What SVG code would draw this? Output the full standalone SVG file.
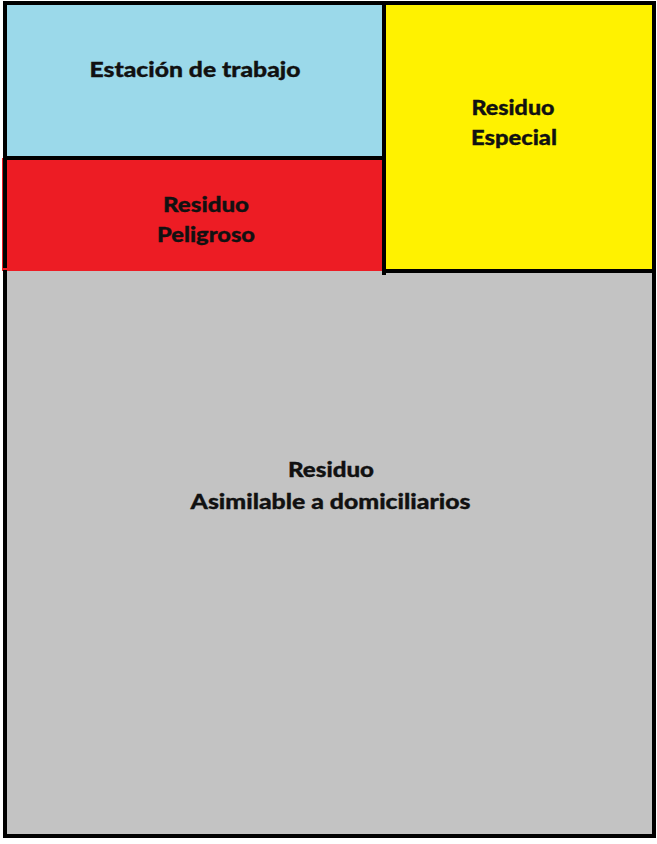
<svg xmlns="http://www.w3.org/2000/svg" width="657" height="844" viewBox="0 0 657 844">
<style>
.lbl{font-family:Lato,"Open Sans","Liberation Sans",sans-serif;font-weight:900;font-size:21.5px;fill:#111;stroke:#111;stroke-width:0.35;text-anchor:middle}
.ln{stroke:#000;stroke-width:4;fill:none}
</style>
<rect x="0" y="0" width="657" height="844" fill="#ffffff"/>
<g id="gray-area">
<rect x="5" y="270" width="649" height="566" fill="#c3c3c3"/>
<text class="lbl" x="331" y="477" textLength="86" lengthAdjust="spacingAndGlyphs">Residuo</text>
<text class="lbl" x="330.5" y="509" textLength="280" lengthAdjust="spacingAndGlyphs">Asimilable a domiciliarios</text>
</g>
<g id="workstation">
<rect x="5" y="3" width="379" height="155" fill="#9bd9ea"/>
<text class="lbl" x="195" y="77" textLength="211" lengthAdjust="spacingAndGlyphs">Estación de trabajo</text>
</g>
<g id="hazardous">
<rect x="2" y="158" width="382" height="113" fill="#ed1c24"/>
<text class="lbl" x="206" y="212" textLength="86" lengthAdjust="spacingAndGlyphs">Residuo</text>
<text class="lbl" x="206" y="242" textLength="98" lengthAdjust="spacingAndGlyphs">Peligroso</text>
</g>
<g id="special">
<rect x="384" y="3" width="270" height="268" fill="#fff200"/>
<text class="lbl" x="513" y="115" textLength="83" lengthAdjust="spacingAndGlyphs">Residuo</text>
<text class="lbl" x="514" y="145" textLength="86" lengthAdjust="spacingAndGlyphs">Especial</text>
</g>
<g id="connectors">
<rect class="ln" x="5" y="3" width="649" height="833"/>
<line class="ln" x1="5" y1="158" x2="384" y2="158"/>
<line class="ln" x1="384" y1="3" x2="384" y2="275"/>
<line class="ln" x1="384" y1="271" x2="654" y2="271"/>
<line x1="2" y1="269" x2="8" y2="269" stroke="#ed1c24" stroke-width="2"/>
</g>
</svg>
